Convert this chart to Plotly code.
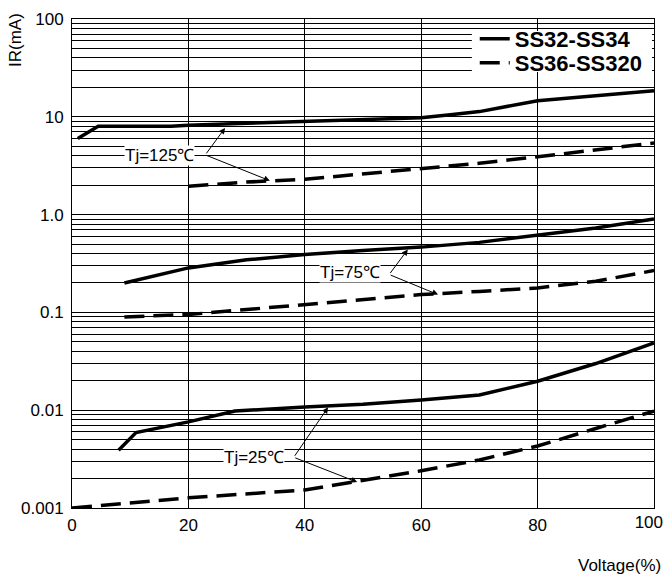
import plotly.graph_objects as go
import math

FONT = "Arial, Liberation Sans, sans-serif"

# ---- data ----
x_125_ss34 = [1, 4.5, 17, 20, 30, 40, 50, 57, 60, 65, 70, 80, 90, 100]
y_125_ss34 = [6.0, 8.0, 8.0, 8.2, 8.6, 9.0, 9.3, 9.6, 9.8, 10.5, 11.3, 14.6, 16.5, 18.5]
x_125_ss320 = [20, 30, 40, 50, 60, 70, 80, 90, 100]
y_125_ss320 = [1.95, 2.15, 2.3, 2.6, 2.95, 3.35, 3.9, 4.6, 5.4]

x_75_ss34 = [9, 20, 30, 40, 50, 60, 70, 80, 90, 100]
y_75_ss34 = [0.2, 0.285, 0.345, 0.39, 0.43, 0.465, 0.52, 0.61, 0.73, 0.9]
x_75_ss320 = [9, 20, 30, 40, 50, 60, 70, 80, 90, 100]
y_75_ss320 = [0.09, 0.095, 0.107, 0.12, 0.135, 0.152, 0.164, 0.178, 0.208, 0.268]

x_25_ss34 = [8, 11, 20, 28, 40, 50, 60, 70, 80, 90, 100]
y_25_ss34 = [0.0039, 0.0059, 0.0076, 0.0098, 0.0108, 0.0115, 0.0127, 0.0143, 0.0198, 0.030, 0.0487]
x_25_ss320 = [0, 20, 40, 50, 60, 70, 80, 90, 100]
y_25_ss320 = [0.001, 0.00127, 0.00153, 0.0019, 0.0024, 0.0031, 0.0043, 0.0065, 0.0098]

x_ticks = [0, 20, 40, 60, 80, 100]
x_ticktext = ["0", "20", "40", "60", "80", ""]
x_last_tick = [100]
x_last_ticktext = ["100"]
y_tickvals = [0.001, 0.01, 0.1, 1, 10, 100]
y_ticktext = ["0.001", "0.01", "0.1", "1.0", "10", "100"]

series_names = ["SS32-SS34", "SS36-SS320"]

# labels: (text, text x, text y, arrow tail x, tail y, [(head x, head y), ...])
labels = [
    ("Tj=125\u2103", 15.1, 4.0, 22.9, 4.08, [(26.3, 7.7), (34.0, 2.22)]),
    ("Tj=75\u2103", 47.8, 0.255, 54.5, 0.244, [(57.7, 0.44), (62.9, 0.152)]),
    ("Tj=25\u2103", 31.3, 0.0033, 38.1, 0.0033, [(44.0, 0.0107), (49.0, 0.00184)]),
]

fig = go.Figure()

solid = dict(color="black", width=3.5)
dashed = dict(color="black", width=3.5, dash="20px,9px")

groups = [
    (x_125_ss34, y_125_ss34, x_125_ss320, y_125_ss320),
    (x_75_ss34, y_75_ss34, x_75_ss320, y_75_ss320),
    (x_25_ss34, y_25_ss34, x_25_ss320, y_25_ss320),
]
for i, (xs, ys, xd, yd) in enumerate(groups):
    fig.add_trace(go.Scatter(x=xs, y=ys, mode="lines", line=solid, name=series_names[0],
                             legend="legend", showlegend=(i == 0)))
    # the last curve sits on the overlaid x axis (same range) that carries the "100" label
    fig.add_trace(go.Scatter(x=xd, y=yd, mode="lines", line=dashed, name=series_names[1],
                             legend="legend2", showlegend=(i == 0),
                             xaxis="x2" if i == len(groups) - 1 else "x"))

annotations = []
for text, tx, ty, ax, ay, heads in labels:
    for hx, hy in heads:
        annotations.append(dict(
            x=hx, y=math.log10(hy), xref="x", yref="y",
            ax=ax, ay=math.log10(ay), axref="x", ayref="y",
            text="", showarrow=True, arrowhead=2, arrowsize=1.2, arrowwidth=1,
            arrowcolor="black", standoff=0, startstandoff=0))
    annotations.append(dict(
        x=tx, y=math.log10(ty), xref="x", yref="y", text=text, showarrow=False,
        font=dict(family=FONT, size=17, color="black"), bgcolor="white", borderpad=0))

annotations.append(dict(
    x=-0.098, y=0.957, xref="paper", yref="paper", text="IR(mA)", textangle=-90,
    xanchor="center", yanchor="middle",
    showarrow=False, font=dict(family=FONT, size=17, color="black")))
annotations.append(dict(
    x=1.0155, y=-0.1166, xref="paper", yref="paper", text="Voltage(%)", xanchor="right",
    yanchor="middle", showarrow=False, font=dict(family=FONT, size=17, color="black")))

legend_font = dict(family=FONT, size=22, color="black", weight="bold")
tick_font = dict(family=FONT, size=17, color="black")

# white box behind the legend (as in the reference)
shapes = [dict(type="rect", xref="paper", yref="paper", x0=0.687, x1=0.9966,
               y0=0.8916, y1=0.9755, fillcolor="white", line=dict(width=0), layer="above")]

fig.update_layout(
    width=665, height=575,
    margin=dict(l=72, r=11, t=19, b=67, autoexpand=False),
    paper_bgcolor="white", plot_bgcolor="white",
    font=dict(family=FONT, size=16, color="black"),
    annotations=annotations,
    shapes=shapes,
    legend=dict(x=0.692, y=0.959, xanchor="left", yanchor="middle",
                bgcolor="rgba(0,0,0,0)", borderwidth=0, font=legend_font, itemwidth=30),
    legend2=dict(x=0.692, y=0.910, xanchor="left", yanchor="middle",
                 bgcolor="rgba(0,0,0,0)", borderwidth=0, font=legend_font, itemwidth=30),
    xaxis=dict(range=[0, 100], tickvals=x_ticks, ticktext=x_ticktext, showgrid=True,
               gridcolor="black", gridwidth=1, showline=True, linecolor="black",
               linewidth=1, mirror=True, ticks="", zeroline=False, ticklabelstandoff=2,
               ticklabeloverflow="allow", tickfont=tick_font),
    # overlaid x axis with the same range; only carries the last tick label, flush right
    xaxis2=dict(overlaying="x", anchor="y", side="bottom", range=[0, 100],
                tickvals=x_last_tick, ticktext=x_last_ticktext, showgrid=False,
                showline=False, zeroline=False, ticks="", ticklabelposition="outside left",
                ticklabelshift=9, ticklabelstandoff=2, ticklabeloverflow="allow",
                tickfont=tick_font),
    yaxis=dict(type="log", range=[-3, 2], tickvals=y_tickvals, ticktext=y_ticktext,
               showgrid=True, gridcolor="black", gridwidth=1, showline=True,
               linecolor="black", linewidth=1, mirror=True, ticks="", zeroline=False,
               ticklabelstandoff=4, ticklabeloverflow="allow",
               minor=dict(dtick="D1", showgrid=True, gridcolor="black", gridwidth=1, ticks=""),
               tickfont=tick_font),
)

# remove the default 8px page margin so the 665x575 figure fills the window exactly
fig.write_html("out.html", config={"displayModeBar": False},
               post_script="document.body.style.margin='0';document.body.style.overflow='hidden';")
